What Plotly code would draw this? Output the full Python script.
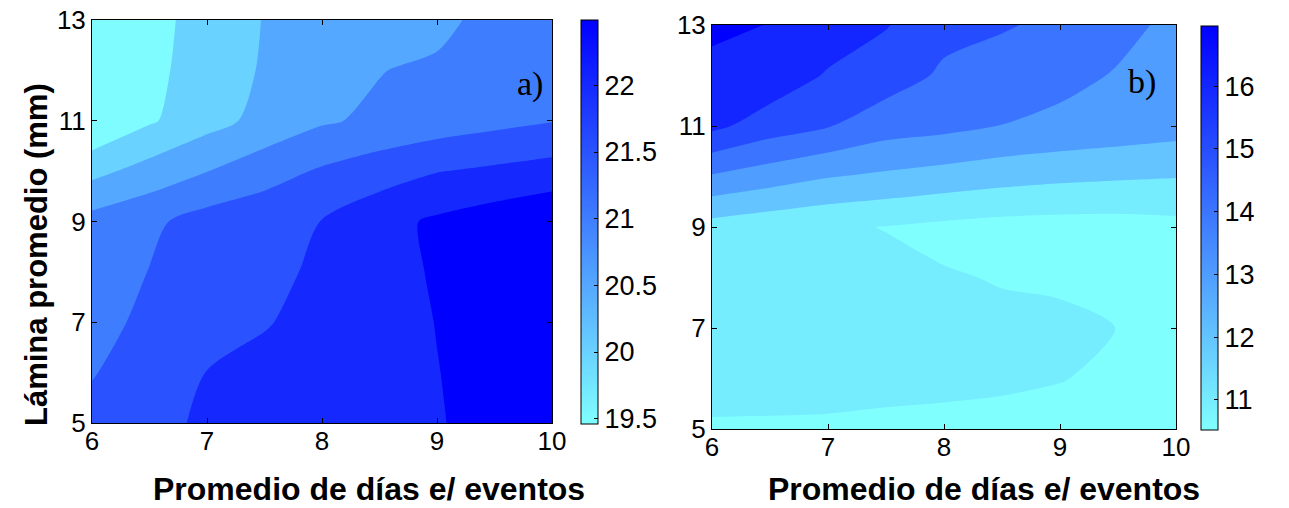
import plotly.graph_objects as go

# ---------------- data ----------------
X_DAYS = [6, 6.5, 7, 7.5, 8, 8.5, 9, 9.5, 10]          # Promedio de días e/ eventos
Y_LAMINA = [5, 6, 7, 8, 9, 10, 11, 12, 13]             # Lámina promedio (mm)

# panel a) rows follow Y_LAMINA (bottom -> top), columns follow X_DAYS
Z_A = [
    [21.15, 21.39, 21.56, 21.66, 21.77, 21.87, 21.98, 22.10, 22.25],
    [20.97, 21.25, 21.51, 21.63, 21.75, 21.88, 21.99, 22.15, 22.30],
    [20.88, 21.08, 21.28, 21.47, 21.65, 21.83, 22.01, 22.18, 22.36],
    [20.82, 21.01, 21.19, 21.38, 21.58, 21.82, 22.05, 22.22, 22.40],
    [20.68, 20.90, 21.20, 21.33, 21.51, 21.83, 22.08, 22.26, 22.44],
    [19.85, 20.19, 20.49, 20.79, 21.06, 21.27, 21.48, 21.59, 21.70],
    [19.00, 19.44, 19.82, 20.15, 20.44, 20.60, 20.73, 20.86, 20.98],
    [19.00, 19.37, 19.73, 20.05, 20.27, 20.48, 20.62, 20.74, 20.87],
    [19.05, 19.34, 19.69, 20.02, 20.16, 20.23, 20.30, 20.75, 20.90],
]

# panel b)
Z_B = [
    [10.65, 10.65, 10.65, 10.60, 10.55, 10.50, 10.45, 10.40, 10.35],
    [11.07, 11.03, 10.98, 10.95, 10.93, 10.88, 10.78, 10.60, 10.35],
    [11.25, 11.17, 11.10, 11.05, 11.05, 10.93, 10.95, 10.74, 10.40],
    [11.30, 11.23, 11.15, 11.00, 10.82, 10.70, 10.60, 10.55, 10.40],
    [11.35, 11.09, 10.89, 10.72, 10.53, 10.40, 10.35, 10.35, 10.46],
    [13.65, 13.22, 12.80, 12.57, 12.35, 12.13, 11.97, 11.87, 11.79],
    [15.99, 15.25, 14.80, 14.21, 14.02, 13.73, 13.53, 13.35, 13.16],
    [16.45, 16.39, 15.65, 15.21, 14.60, 14.30, 14.01, 13.68, 13.35],
    [16.97, 16.72, 16.35, 15.81, 15.03, 14.84, 14.54, 14.00, 13.55],
]

LEVELS_A = dict(start=19.5, end=22.0, size=0.5)
LEVELS_B = dict(start=10.75, end=16.75, size=1.0)

CB_A_RANGE = [19.46, 22.49]
CB_B_RANGE = [10.52, 16.96]
CB_A_TICKS = [19.5, 20, 20.5, 21, 21.5, 22]
CB_A_TICKTEXT = ["19.5", "20", "20.5", "21", "21.5", "22"]
CB_B_TICKS = [11, 12, 13, 14, 15, 16]

X_TICKS = [6, 7, 8, 9, 10]
Y_TICKS = [5, 7, 9, 11, 13]

X_TITLE = "Promedio de días e/ eventos"
Y_TITLE = "Lámina promedio (mm)"

# ---------------- styling ----------------
CYAN = (128, 255, 255)
BLUE = (0, 0, 255)


def cmap(f):
    return "rgb(%d,%d,%d)" % tuple(round(c0 + (c1 - c0) * f) for c0, c1 in zip(CYAN, BLUE))


LINEAR_SCALE = [[0, cmap(0)], [1, cmap(1)]]
BAND_FRAC_B = [0.0, 0.075, 0.23, 0.385, 0.54, 0.70, 0.85, 1.0]
n_b = len(BAND_FRAC_B) - 1
SCALE_B = [[k / n_b, cmap(f)] for k, f in enumerate(BAND_FRAC_B)]
BAND_FRAC_A = [0.013, 0.178, 0.343, 0.508, 0.673, 0.838, 1.0]
n_a = len(BAND_FRAC_A) - 1
SCALE_A = [[k / n_a, cmap(f)] for k, f in enumerate(BAND_FRAC_A)]

FONT = "Liberation Sans, Arial, sans-serif"
W, H = 1289, 508

# pixel layout
A_X = (92, 552)
A_Y = (20, 423)
B_X = (712, 1176)
B_Y = (25, 429)
CBA_X, CBA_Y = 581, (20, 424)
CBB_X, CBB_Y = 1201, (26, 430)


def fx(p):
    return p / W


def fy(p):
    return 1 - p / H


fig = go.Figure()

for z, lv, scale, xa, ya in [(Z_A, LEVELS_A, SCALE_A, "x", "y"),
                             (Z_B, LEVELS_B, SCALE_B, "x2", "y2")]:
    fig.add_trace(go.Contour(
        x=X_DAYS, y=Y_LAMINA, z=z,
        autocontour=False,
        contours=dict(start=lv["start"], end=lv["end"], size=lv["size"],
                      coloring="fill", showlines=False),
        line=dict(width=0, smoothing=0.8),
        colorscale=scale, showscale=False,
        xaxis=xa, yaxis=ya, hoverinfo="skip",
    ))

# continuous colorbars (as in the original figure)
for rng, ticks, ticktext, cbx, cby, xa, ya in [
        (CB_A_RANGE, CB_A_TICKS, CB_A_TICKTEXT, CBA_X, CBA_Y, "x", "y"),
        (CB_B_RANGE, CB_B_TICKS, [str(t) for t in CB_B_TICKS], CBB_X, CBB_Y, "x2", "y2")]:
    fig.add_trace(go.Scatter(
        x=[None], y=[None], mode="markers", xaxis=xa, yaxis=ya, showlegend=False,
        marker=dict(color=[rng[0]], cmin=rng[0], cmax=rng[1], colorscale=LINEAR_SCALE,
                    showscale=True,
                    colorbar=dict(
                        x=fx(cbx), xanchor="left", xpad=0,
                        y=fy(cby[1]), yanchor="bottom", ypad=0,
                        len=(cby[1] - cby[0]) / H, lenmode="fraction",
                        thickness=17, thicknessmode="pixels",
                        outlinecolor="black", outlinewidth=1,
                        tickvals=ticks, ticktext=ticktext,
                        ticks="inside", ticklen=4, tickcolor="black",
                        tickfont=dict(family=FONT, size=27, color="black"),
                    )),
    ))

axis_common = dict(showline=True, linecolor="black", linewidth=1, mirror="allticks",
                   ticks="inside", ticklen=5, tickcolor="black", showgrid=False,
                   zeroline=False, automargin=False,
                   tickfont=dict(family=FONT, size=26, color="black"))

fig.update_layout(
    template="none",
    width=W, height=H,
    margin=dict(l=0, r=0, t=0, b=0, autoexpand=False),
    paper_bgcolor="white", plot_bgcolor="white",
    showlegend=False,
    xaxis=dict(domain=[fx(A_X[0]), fx(A_X[1])], range=[6, 10], tickvals=X_TICKS,
               anchor="y", ticklabelstandoff=-5, **axis_common),
    yaxis=dict(domain=[fy(A_Y[1]), fy(A_Y[0])], range=[5, 13], tickvals=Y_TICKS,
               anchor="x", **axis_common),
    xaxis2=dict(domain=[fx(B_X[0]), fx(B_X[1])], range=[6, 10], tickvals=X_TICKS,
                anchor="y2", ticklabelstandoff=-5, **axis_common),
    yaxis2=dict(domain=[fy(B_Y[1]), fy(B_Y[0])], range=[5, 13], tickvals=Y_TICKS,
                anchor="x2", **axis_common),
)

title_font = dict(family=FONT, size=32, color="black", weight="bold")
annotations = [
    dict(text=X_TITLE, x=fx(369), y=0, xref="paper", yref="paper", borderpad=0,
         showarrow=False, xanchor="center", yanchor="bottom", font=title_font),
    dict(text=X_TITLE, x=fx(984), y=0, xref="paper", yref="paper", borderpad=0,
         showarrow=False, xanchor="center", yanchor="bottom", font=title_font),
    dict(text=Y_TITLE, x=fx(36), y=fy(255), xref="paper", yref="paper",
         showarrow=False, xanchor="center", yanchor="middle", textangle=-90,
         font=dict(family=FONT, size=31, color="black", weight="bold")),
    dict(text="a)", x=fx(530), y=fy(84), xref="paper", yref="paper",
         showarrow=False, xanchor="center", yanchor="middle",
         font=dict(family="Liberation Serif, Times New Roman, serif", size=34, color="black")),
    dict(text="b)", x=fx(1142), y=fy(82), xref="paper", yref="paper",
         showarrow=False, xanchor="center", yanchor="middle",
         font=dict(family="Liberation Serif, Times New Roman, serif", size=34, color="black")),
]
fig.update_layout(annotations=annotations)

fig.write_html("out.html", config={"displayModeBar": False},
               post_script="document.body.style.margin='0';document.body.style.overflow='hidden';")
